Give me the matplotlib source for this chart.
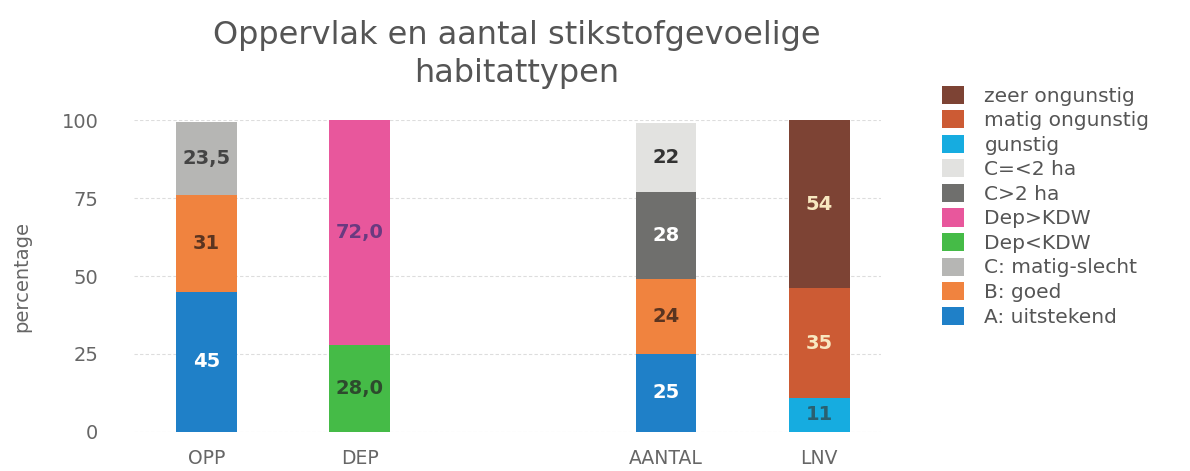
import matplotlib
matplotlib.use("Agg")
import matplotlib.pyplot as plt
import numpy as np

categories = ["OPP", "DEP", "", "AANTAL", "LNV"]

# series values per category (NaN = not present)
nan = np.nan
series_names = ["A: uitstekend", "B: goed", "C: matig-slecht", "Dep<KDW", "Dep>KDW",
                "C>2 ha", "C=<2 ha", "gunstig", "matig ongunstig", "zeer ongunstig"]
a_uitstekend = [45, nan, nan, 25, nan]
b_goed = [31, nan, nan, 24, nan]
c_matig_slecht = [23.5, nan, nan, nan, nan]
dep_lt_kdw = [nan, 28.0, nan, nan, nan]
dep_gt_kdw = [nan, 72.0, nan, nan, nan]
c_gt_2ha = [nan, nan, nan, 28, nan]
c_le_2ha = [nan, nan, nan, 22, nan]
gunstig = [nan, nan, nan, nan, 11]
matig_ongunstig = [nan, nan, nan, nan, 35]
zeer_ongunstig = [nan, nan, nan, nan, 54]

label_texts = {
    "A: uitstekend": ["45", None, None, "25", None],
    "B: goed": ["31", None, None, "24", None],
    "C: matig-slecht": ["23,5", None, None, None, None],
    "Dep<KDW": [None, "28,0", None, None, None],
    "Dep>KDW": [None, "72,0", None, None, None],
    "C>2 ha": [None, None, None, "28", None],
    "C=<2 ha": [None, None, None, "22", None],
    "gunstig": [None, None, None, None, "11"],
    "matig ongunstig": [None, None, None, None, "35"],
    "zeer ongunstig": [None, None, None, None, "54"],
}

series_values = [a_uitstekend, b_goed, c_matig_slecht, dep_lt_kdw, dep_gt_kdw,
                 c_gt_2ha, c_le_2ha, gunstig, matig_ongunstig, zeer_ongunstig]
colors = ["#1f80c8", "#f0833f", "#b6b6b4", "#45bb47", "#e8579c",
          "#6f6f6d", "#e2e2e0", "#16ace0", "#cc5b34", "#7d4334"]
text_colors = ["white", "#5a3420", "#444444", "#2d4a2d", "#6a3a80",
               "white", "#333333", "#2a6070", "#f8e8c0", "#f8e8c0"]

fig = plt.figure(figsize=(11.9, 4.71), dpi=100)
ax = fig.add_axes([0.113, 0.083, 0.627, 0.662])

x = np.arange(len(categories))
bottom = np.zeros(len(categories))
handles = []
for name, vals, col, tcol in zip(series_names, series_values, colors, text_colors):
    v = np.array(vals, dtype=float)
    h = np.nan_to_num(v)
    bars = ax.bar(x, h, 0.395, bottom=bottom, color=col, label=name, zorder=3)
    handles.append(bars)
    for i, t in enumerate(label_texts[name]):
        if t is not None:
            ax.text(x[i], bottom[i] + h[i] / 2, t, ha="center", va="center",
                    fontsize=14, fontweight="bold", color=tcol, zorder=4,
                    family="DejaVu Sans")
    bottom = bottom + h

ax.set_xlim(-0.47, 4.4)
ax.set_ylim(0, 100)
ax.set_yticks([0, 25, 50, 75, 100])
ax.set_xticks(x)
ax.set_xticklabels(categories)
ax.tick_params(axis="both", length=0, colors="#666666")
ax.tick_params(axis="y", pad=26, labelsize=14)
ax.tick_params(axis="x", pad=12, labelsize=13.5)
ax.grid(axis="y", color="#dddddd", linewidth=0.8, linestyle=(0, (3, 2)), zorder=0)
for s in ax.spines.values():
    s.set_visible(False)
ax.set_ylabel("percentage", fontsize=14, color="#666666", labelpad=22)

fig.text(0.434, 0.925, "Oppervlak en aantal stikstofgevoelige", ha="center", va="center",
         fontsize=23, color="#555555", family="DejaVu Sans")
fig.text(0.434, 0.845, "habitattypen", ha="center", va="center",
         fontsize=23, color="#555555", family="DejaVu Sans")

leg = fig.legend(handles[::-1], series_names[::-1], loc="upper left",
                 bbox_to_anchor=(0.785, 0.835), frameon=False,
                 prop={"family": "DejaVu Sans", "size": 14.5},
                 handlelength=1.1, handleheight=1.0, labelspacing=0.23,
                 handletextpad=1.0, borderaxespad=0)
for t in leg.get_texts():
    t.set_color("#555555")

fig.savefig("out.png", dpi=100)
